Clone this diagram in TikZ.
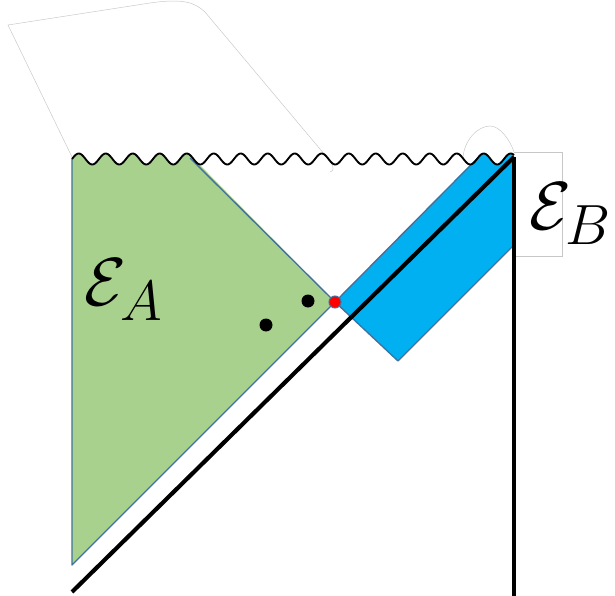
\documentclass[tikz,border=0pt]{standalone}
\usepackage{amsmath}
\begin{document}
\begin{tikzpicture}[x=0.75pt,y=-0.75pt,
  declare function={wv(\x)=159-5.5*sin(((\x-72)/27)*360);},
  edge/.style={draw=edgeblue,line width=1pt,line join=round},
  faint/.style={draw=black!22,line width=0.35pt},
  thick line/.style={line width=3.1pt},
  dot/.style={fill=black},
  biglabel/.style={font=\Huge,scale=2.05,transform shape,inner sep=0pt}]
\definecolor{greenfill}{HTML}{A9D18E}
\definecolor{bluefill}{HTML}{00B0F0}
\definecolor{edgeblue}{HTML}{41719C}
\useasboundingbox (0,0) rectangle (615,596);
% named points
\coordinate (gtl) at (72,159);
\coordinate (gtr) at (190,158);
\coordinate (red) at (335,302);
\coordinate (gbot) at (72,565);
\coordinate (btl) at (478,{wv(478)});
\coordinate (btr) at (514,157);
\coordinate (brt) at (514,245);
\coordinate (bbot) at (398,361);
\coordinate (lineA) at (72,592);
\coordinate (vbot) at (514,596);
% faint sketch outlines
\draw[faint] (72,157) -- (8,25) -- (150,3) .. controls (185,-2) and (195,3) .. (205,12) -- (325,155) .. controls (333,164) and (336,170) .. (330,172);
\draw[faint] (463,158) .. controls (464,140) and (478,126) .. (490,126) .. controls (500,126) and (510,140) .. (514,152);
\draw[faint] (514,152) -- (562,152) -- (562,256) -- (514,256);
% green region
\fill[greenfill] plot[domain=72:190,samples=80] (\x,{wv(\x)}) -- (red) -- (gbot) -- cycle;
\draw[edge] (gtr) -- (red) -- (gbot) -- (gtl);
% blue region
\fill[bluefill] (red) -- (btl) -- plot[domain=478:514,samples=30] (\x,{wv(\x)}) -- (brt) -- (bbot) -- cycle;
\draw[edge] (btl) -- (red) -- (bbot) -- (brt);
% black lines
\draw[thick line] (lineA) -- (btr);
\draw[line width=2.6pt] (btr) -- (vbot);
% singularity
\draw[line width=1.4pt] plot[domain=72:514,samples=400,smooth] (\x,{wv(\x)});
% dots
\fill[dot] (308,301) circle (6.5);
\fill[dot] (266,325) circle (6.5);
\filldraw[fill=red,draw=edgeblue,line width=0.8pt] (red) circle (6);
% labels
\node[biglabel] (EA) at (124,290) {$\mathcal{E}_A$};
\node[biglabel] (EB) at (571,214) {$\mathcal{E}_B$};
\end{tikzpicture}
\end{document}
